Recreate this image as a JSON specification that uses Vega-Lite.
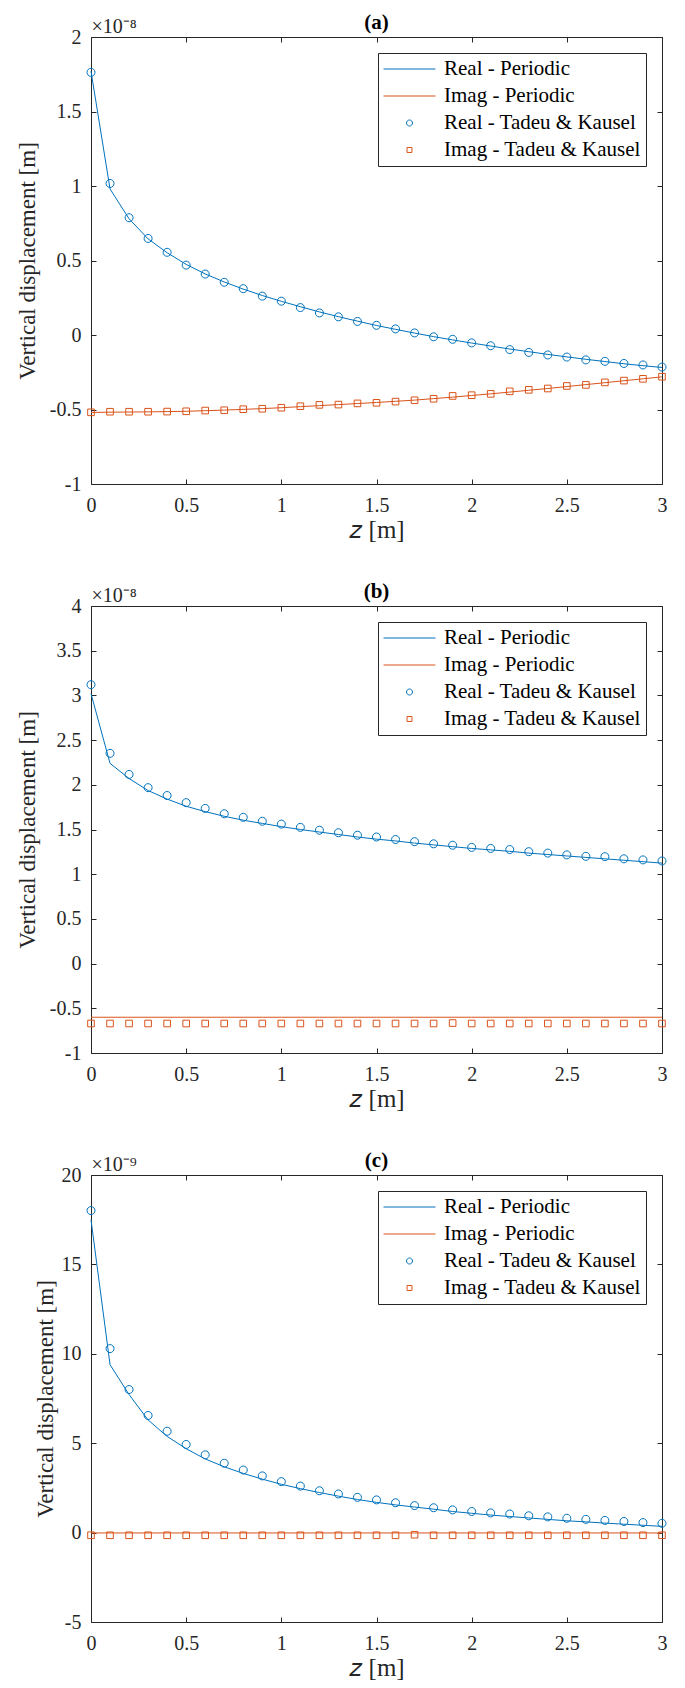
{
  "$schema": "https://vega.github.io/schema/vega-lite/v6.json",
  "background": "white",
  "padding": {"left": 16, "top": 11, "right": 5, "bottom": 5},
  "config": {
    "view": {"stroke": null},
    "font": "Liberation Serif",
    "style": {"guide-label": {"font": "Liberation Serif"}, "guide-title": {"font": "Liberation Serif"}, "group-title": {"font": "Liberation Serif"}},
    "title": {"font": "Liberation Serif", "fontSize": 21, "fontWeight": "bold", "color": "#000000", "frame": "group", "anchor": "middle", "offset": -16},
    "axis": {"grid": false, "domainColor": "#262626", "domainWidth": 1, "tickColor": "#262626", "tickWidth": 1, "tickSize": -5, "labelFont": "Liberation Serif", "labelFontSize": 20, "labelColor": "#262626", "labelFlush": false, "labelOverlap": false, "titleFont": "Liberation Serif", "titleFontSize": 25, "titleFontWeight": "normal", "titleColor": "#262626"},
    "axisX": {"labelPadding": 16, "titlePadding": 2},
    "axisY": {"labelPadding": 15, "titlePadding": 10, "titleFontSize": 23},
    "legend": {"orient": "top-right", "offset": 16, "padding": 5, "rowPadding": 5, "clipHeight": 22, "labelFont": "Liberation Serif", "labelFontSize": 21, "labelColor": "#000000", "labelOffset": 8, "labelLimit": 0, "symbolSize": 2700, "symbolStrokeWidth": 1, "strokeColor": "#262626", "fillColor": "#ffffff"}
  },
  "datasets": {
    "aP": [
      {"z":0,"v":1.77e-8,"s":"Real - Periodic"},{"z":0.1,"v":0.98e-8,"s":"Real - Periodic"},{"z":0.2,"v":0.78e-8,"s":"Real - Periodic"},{"z":0.3,"v":0.645e-8,"s":"Real - Periodic"},{"z":0.4,"v":0.552e-8,"s":"Real - Periodic"},{"z":0.5,"v":0.474e-8,"s":"Real - Periodic"},{"z":0.6,"v":0.41e-8,"s":"Real - Periodic"},{"z":0.7,"v":0.356e-8,"s":"Real - Periodic"},{"z":0.8,"v":0.308e-8,"s":"Real - Periodic"},{"z":0.9,"v":0.265e-8,"s":"Real - Periodic"},{"z":1.0,"v":0.226e-8,"s":"Real - Periodic"},{"z":1.1,"v":0.19e-8,"s":"Real - Periodic"},{"z":1.2,"v":0.155e-8,"s":"Real - Periodic"},{"z":1.3,"v":0.123e-8,"s":"Real - Periodic"},{"z":1.4,"v":0.093e-8,"s":"Real - Periodic"},{"z":1.5,"v":0.064e-8,"s":"Real - Periodic"},{"z":1.6,"v":0.038e-8,"s":"Real - Periodic"},{"z":1.7,"v":0.013e-8,"s":"Real - Periodic"},{"z":1.8,"v":-0.011e-8,"s":"Real - Periodic"},{"z":1.9,"v":-0.033e-8,"s":"Real - Periodic"},{"z":2.0,"v":-0.054e-8,"s":"Real - Periodic"},{"z":2.1,"v":-0.074e-8,"s":"Real - Periodic"},{"z":2.2,"v":-0.094e-8,"s":"Real - Periodic"},{"z":2.3,"v":-0.112e-8,"s":"Real - Periodic"},{"z":2.4,"v":-0.13e-8,"s":"Real - Periodic"},{"z":2.5,"v":-0.147e-8,"s":"Real - Periodic"},{"z":2.6,"v":-0.163e-8,"s":"Real - Periodic"},{"z":2.7,"v":-0.178e-8,"s":"Real - Periodic"},{"z":2.8,"v":-0.193e-8,"s":"Real - Periodic"},{"z":2.9,"v":-0.206e-8,"s":"Real - Periodic"},{"z":3.0,"v":-0.218e-8,"s":"Real - Periodic"},
      {"z":0,"v":-0.52e-8,"s":"Imag - Periodic"},{"z":0.1,"v":-0.518e-8,"s":"Imag - Periodic"},{"z":0.2,"v":-0.517e-8,"s":"Imag - Periodic"},{"z":0.3,"v":-0.516e-8,"s":"Imag - Periodic"},{"z":0.4,"v":-0.514e-8,"s":"Imag - Periodic"},{"z":0.5,"v":-0.512e-8,"s":"Imag - Periodic"},{"z":0.6,"v":-0.508e-8,"s":"Imag - Periodic"},{"z":0.7,"v":-0.504e-8,"s":"Imag - Periodic"},{"z":0.8,"v":-0.499e-8,"s":"Imag - Periodic"},{"z":0.9,"v":-0.494e-8,"s":"Imag - Periodic"},{"z":1.0,"v":-0.488e-8,"s":"Imag - Periodic"},{"z":1.1,"v":-0.481e-8,"s":"Imag - Periodic"},{"z":1.2,"v":-0.474e-8,"s":"Imag - Periodic"},{"z":1.3,"v":-0.467e-8,"s":"Imag - Periodic"},{"z":1.4,"v":-0.46e-8,"s":"Imag - Periodic"},{"z":1.5,"v":-0.453e-8,"s":"Imag - Periodic"},{"z":1.6,"v":-0.445e-8,"s":"Imag - Periodic"},{"z":1.7,"v":-0.437e-8,"s":"Imag - Periodic"},{"z":1.8,"v":-0.427e-8,"s":"Imag - Periodic"},{"z":1.9,"v":-0.417e-8,"s":"Imag - Periodic"},{"z":2.0,"v":-0.406e-8,"s":"Imag - Periodic"},{"z":2.1,"v":-0.395e-8,"s":"Imag - Periodic"},{"z":2.2,"v":-0.383e-8,"s":"Imag - Periodic"},{"z":2.3,"v":-0.371e-8,"s":"Imag - Periodic"},{"z":2.4,"v":-0.359e-8,"s":"Imag - Periodic"},{"z":2.5,"v":-0.346e-8,"s":"Imag - Periodic"},{"z":2.6,"v":-0.333e-8,"s":"Imag - Periodic"},{"z":2.7,"v":-0.32e-8,"s":"Imag - Periodic"},{"z":2.8,"v":-0.307e-8,"s":"Imag - Periodic"},{"z":2.9,"v":-0.294e-8,"s":"Imag - Periodic"},{"z":3.0,"v":-0.281e-8,"s":"Imag - Periodic"}
    ],
    "aT": [
      {"z":0,"v":1.763e-8,"s":"Real - Tadeu & Kausel"},{"z":0.1,"v":1.017e-8,"s":"Real - Tadeu & Kausel"},{"z":0.2,"v":0.787e-8,"s":"Real - Tadeu & Kausel"},{"z":0.3,"v":0.648e-8,"s":"Real - Tadeu & Kausel"},{"z":0.4,"v":0.555e-8,"s":"Real - Tadeu & Kausel"},{"z":0.5,"v":0.469e-8,"s":"Real - Tadeu & Kausel"},{"z":0.6,"v":0.409e-8,"s":"Real - Tadeu & Kausel"},{"z":0.7,"v":0.354e-8,"s":"Real - Tadeu & Kausel"},{"z":0.8,"v":0.311e-8,"s":"Real - Tadeu & Kausel"},{"z":0.9,"v":0.261e-8,"s":"Real - Tadeu & Kausel"},{"z":1.0,"v":0.227e-8,"s":"Real - Tadeu & Kausel"},{"z":1.1,"v":0.184e-8,"s":"Real - Tadeu & Kausel"},{"z":1.2,"v":0.148e-8,"s":"Real - Tadeu & Kausel"},{"z":1.3,"v":0.122e-8,"s":"Real - Tadeu & Kausel"},{"z":1.4,"v":0.091e-8,"s":"Real - Tadeu & Kausel"},{"z":1.5,"v":0.065e-8,"s":"Real - Tadeu & Kausel"},{"z":1.6,"v":0.041e-8,"s":"Real - Tadeu & Kausel"},{"z":1.7,"v":0.014e-8,"s":"Real - Tadeu & Kausel"},{"z":1.8,"v":-0.012e-8,"s":"Real - Tadeu & Kausel"},{"z":1.9,"v":-0.029e-8,"s":"Real - Tadeu & Kausel"},{"z":2.0,"v":-0.053e-8,"s":"Real - Tadeu & Kausel"},{"z":2.1,"v":-0.072e-8,"s":"Real - Tadeu & Kausel"},{"z":2.2,"v":-0.098e-8,"s":"Real - Tadeu & Kausel"},{"z":2.3,"v":-0.117e-8,"s":"Real - Tadeu & Kausel"},{"z":2.4,"v":-0.134e-8,"s":"Real - Tadeu & Kausel"},{"z":2.5,"v":-0.148e-8,"s":"Real - Tadeu & Kausel"},{"z":2.6,"v":-0.167e-8,"s":"Real - Tadeu & Kausel"},{"z":2.7,"v":-0.177e-8,"s":"Real - Tadeu & Kausel"},{"z":2.8,"v":-0.191e-8,"s":"Real - Tadeu & Kausel"},{"z":2.9,"v":-0.201e-8,"s":"Real - Tadeu & Kausel"},{"z":3.0,"v":-0.215e-8,"s":"Real - Tadeu & Kausel"},
      {"z":0,"v":-0.519e-8,"s":"Imag - Tadeu & Kausel"},{"z":0.1,"v":-0.515e-8,"s":"Imag - Tadeu & Kausel"},{"z":0.2,"v":-0.515e-8,"s":"Imag - Tadeu & Kausel"},{"z":0.3,"v":-0.515e-8,"s":"Imag - Tadeu & Kausel"},{"z":0.4,"v":-0.514e-8,"s":"Imag - Tadeu & Kausel"},{"z":0.5,"v":-0.512e-8,"s":"Imag - Tadeu & Kausel"},{"z":0.6,"v":-0.507e-8,"s":"Imag - Tadeu & Kausel"},{"z":0.7,"v":-0.505e-8,"s":"Imag - Tadeu & Kausel"},{"z":0.8,"v":-0.498e-8,"s":"Imag - Tadeu & Kausel"},{"z":0.9,"v":-0.495e-8,"s":"Imag - Tadeu & Kausel"},{"z":1.0,"v":-0.488e-8,"s":"Imag - Tadeu & Kausel"},{"z":1.1,"v":-0.478e-8,"s":"Imag - Tadeu & Kausel"},{"z":1.2,"v":-0.469e-8,"s":"Imag - Tadeu & Kausel"},{"z":1.3,"v":-0.467e-8,"s":"Imag - Tadeu & Kausel"},{"z":1.4,"v":-0.459e-8,"s":"Imag - Tadeu & Kausel"},{"z":1.5,"v":-0.455e-8,"s":"Imag - Tadeu & Kausel"},{"z":1.6,"v":-0.447e-8,"s":"Imag - Tadeu & Kausel"},{"z":1.7,"v":-0.438e-8,"s":"Imag - Tadeu & Kausel"},{"z":1.8,"v":-0.428e-8,"s":"Imag - Tadeu & Kausel"},{"z":1.9,"v":-0.409e-8,"s":"Imag - Tadeu & Kausel"},{"z":2.0,"v":-0.404e-8,"s":"Imag - Tadeu & Kausel"},{"z":2.1,"v":-0.395e-8,"s":"Imag - Tadeu & Kausel"},{"z":2.2,"v":-0.378e-8,"s":"Imag - Tadeu & Kausel"},{"z":2.3,"v":-0.368e-8,"s":"Imag - Tadeu & Kausel"},{"z":2.4,"v":-0.359e-8,"s":"Imag - Tadeu & Kausel"},{"z":2.5,"v":-0.342e-8,"s":"Imag - Tadeu & Kausel"},{"z":2.6,"v":-0.335e-8,"s":"Imag - Tadeu & Kausel"},{"z":2.7,"v":-0.318e-8,"s":"Imag - Tadeu & Kausel"},{"z":2.8,"v":-0.306e-8,"s":"Imag - Tadeu & Kausel"},{"z":2.9,"v":-0.294e-8,"s":"Imag - Tadeu & Kausel"},{"z":3.0,"v":-0.28e-8,"s":"Imag - Tadeu & Kausel"}
    ],
    "bP": [
      {"z":0,"v":3.02e-8,"s":"Real - Periodic"},{"z":0.1,"v":2.24e-8,"s":"Real - Periodic"},{"z":0.2,"v":2.07e-8,"s":"Real - Periodic"},{"z":0.3,"v":1.936e-8,"s":"Real - Periodic"},{"z":0.4,"v":1.84e-8,"s":"Real - Periodic"},{"z":0.5,"v":1.76e-8,"s":"Real - Periodic"},{"z":0.6,"v":1.70e-8,"s":"Real - Periodic"},{"z":0.7,"v":1.648e-8,"s":"Real - Periodic"},{"z":0.8,"v":1.604e-8,"s":"Real - Periodic"},{"z":0.9,"v":1.568e-8,"s":"Real - Periodic"},{"z":1.0,"v":1.532e-8,"s":"Real - Periodic"},{"z":1.1,"v":1.50e-8,"s":"Real - Periodic"},{"z":1.2,"v":1.472e-8,"s":"Real - Periodic"},{"z":1.3,"v":1.444e-8,"s":"Real - Periodic"},{"z":1.4,"v":1.416e-8,"s":"Real - Periodic"},{"z":1.5,"v":1.392e-8,"s":"Real - Periodic"},{"z":1.6,"v":1.372e-8,"s":"Real - Periodic"},{"z":1.7,"v":1.348e-8,"s":"Real - Periodic"},{"z":1.8,"v":1.328e-8,"s":"Real - Periodic"},{"z":1.9,"v":1.308e-8,"s":"Real - Periodic"},{"z":2.0,"v":1.288e-8,"s":"Real - Periodic"},{"z":2.1,"v":1.272e-8,"s":"Real - Periodic"},{"z":2.2,"v":1.256e-8,"s":"Real - Periodic"},{"z":2.3,"v":1.236e-8,"s":"Real - Periodic"},{"z":2.4,"v":1.22e-8,"s":"Real - Periodic"},{"z":2.5,"v":1.204e-8,"s":"Real - Periodic"},{"z":2.6,"v":1.188e-8,"s":"Real - Periodic"},{"z":2.7,"v":1.172e-8,"s":"Real - Periodic"},{"z":2.8,"v":1.156e-8,"s":"Real - Periodic"},{"z":2.9,"v":1.14e-8,"s":"Real - Periodic"},{"z":3.0,"v":1.124e-8,"s":"Real - Periodic"},
      {"z":0,"v":-0.6e-8,"s":"Imag - Periodic"},{"z":0.1,"v":-0.6e-8,"s":"Imag - Periodic"},{"z":0.2,"v":-0.6e-8,"s":"Imag - Periodic"},{"z":0.3,"v":-0.6e-8,"s":"Imag - Periodic"},{"z":0.4,"v":-0.6e-8,"s":"Imag - Periodic"},{"z":0.5,"v":-0.6e-8,"s":"Imag - Periodic"},{"z":0.6,"v":-0.6e-8,"s":"Imag - Periodic"},{"z":0.7,"v":-0.6e-8,"s":"Imag - Periodic"},{"z":0.8,"v":-0.6e-8,"s":"Imag - Periodic"},{"z":0.9,"v":-0.6e-8,"s":"Imag - Periodic"},{"z":1.0,"v":-0.6e-8,"s":"Imag - Periodic"},{"z":1.1,"v":-0.6e-8,"s":"Imag - Periodic"},{"z":1.2,"v":-0.6e-8,"s":"Imag - Periodic"},{"z":1.3,"v":-0.6e-8,"s":"Imag - Periodic"},{"z":1.4,"v":-0.6e-8,"s":"Imag - Periodic"},{"z":1.5,"v":-0.6e-8,"s":"Imag - Periodic"},{"z":1.6,"v":-0.6e-8,"s":"Imag - Periodic"},{"z":1.7,"v":-0.6e-8,"s":"Imag - Periodic"},{"z":1.8,"v":-0.6e-8,"s":"Imag - Periodic"},{"z":1.9,"v":-0.6e-8,"s":"Imag - Periodic"},{"z":2.0,"v":-0.6e-8,"s":"Imag - Periodic"},{"z":2.1,"v":-0.6e-8,"s":"Imag - Periodic"},{"z":2.2,"v":-0.6e-8,"s":"Imag - Periodic"},{"z":2.3,"v":-0.6e-8,"s":"Imag - Periodic"},{"z":2.4,"v":-0.6e-8,"s":"Imag - Periodic"},{"z":2.5,"v":-0.6e-8,"s":"Imag - Periodic"},{"z":2.6,"v":-0.6e-8,"s":"Imag - Periodic"},{"z":2.7,"v":-0.6e-8,"s":"Imag - Periodic"},{"z":2.8,"v":-0.6e-8,"s":"Imag - Periodic"},{"z":2.9,"v":-0.6e-8,"s":"Imag - Periodic"},{"z":3.0,"v":-0.6e-8,"s":"Imag - Periodic"}
    ],
    "bT": [
      {"z":0,"v":3.12e-8,"s":"Real - Tadeu & Kausel"},{"z":0.1,"v":2.352e-8,"s":"Real - Tadeu & Kausel"},{"z":0.2,"v":2.116e-8,"s":"Real - Tadeu & Kausel"},{"z":0.3,"v":1.968e-8,"s":"Real - Tadeu & Kausel"},{"z":0.4,"v":1.88e-8,"s":"Real - Tadeu & Kausel"},{"z":0.5,"v":1.80e-8,"s":"Real - Tadeu & Kausel"},{"z":0.6,"v":1.736e-8,"s":"Real - Tadeu & Kausel"},{"z":0.7,"v":1.676e-8,"s":"Real - Tadeu & Kausel"},{"z":0.8,"v":1.636e-8,"s":"Real - Tadeu & Kausel"},{"z":0.9,"v":1.592e-8,"s":"Real - Tadeu & Kausel"},{"z":1.0,"v":1.56e-8,"s":"Real - Tadeu & Kausel"},{"z":1.1,"v":1.524e-8,"s":"Real - Tadeu & Kausel"},{"z":1.2,"v":1.492e-8,"s":"Real - Tadeu & Kausel"},{"z":1.3,"v":1.464e-8,"s":"Real - Tadeu & Kausel"},{"z":1.4,"v":1.436e-8,"s":"Real - Tadeu & Kausel"},{"z":1.5,"v":1.416e-8,"s":"Real - Tadeu & Kausel"},{"z":1.6,"v":1.388e-8,"s":"Real - Tadeu & Kausel"},{"z":1.7,"v":1.364e-8,"s":"Real - Tadeu & Kausel"},{"z":1.8,"v":1.34e-8,"s":"Real - Tadeu & Kausel"},{"z":1.9,"v":1.324e-8,"s":"Real - Tadeu & Kausel"},{"z":2.0,"v":1.30e-8,"s":"Real - Tadeu & Kausel"},{"z":2.1,"v":1.288e-8,"s":"Real - Tadeu & Kausel"},{"z":2.2,"v":1.276e-8,"s":"Real - Tadeu & Kausel"},{"z":2.3,"v":1.252e-8,"s":"Real - Tadeu & Kausel"},{"z":2.4,"v":1.236e-8,"s":"Real - Tadeu & Kausel"},{"z":2.5,"v":1.216e-8,"s":"Real - Tadeu & Kausel"},{"z":2.6,"v":1.20e-8,"s":"Real - Tadeu & Kausel"},{"z":2.7,"v":1.196e-8,"s":"Real - Tadeu & Kausel"},{"z":2.8,"v":1.172e-8,"s":"Real - Tadeu & Kausel"},{"z":2.9,"v":1.16e-8,"s":"Real - Tadeu & Kausel"},{"z":3.0,"v":1.148e-8,"s":"Real - Tadeu & Kausel"},
      {"z":0,"v":-0.67e-8,"s":"Imag - Tadeu & Kausel"},{"z":0.1,"v":-0.67e-8,"s":"Imag - Tadeu & Kausel"},{"z":0.2,"v":-0.67e-8,"s":"Imag - Tadeu & Kausel"},{"z":0.3,"v":-0.67e-8,"s":"Imag - Tadeu & Kausel"},{"z":0.4,"v":-0.67e-8,"s":"Imag - Tadeu & Kausel"},{"z":0.5,"v":-0.67e-8,"s":"Imag - Tadeu & Kausel"},{"z":0.6,"v":-0.67e-8,"s":"Imag - Tadeu & Kausel"},{"z":0.7,"v":-0.67e-8,"s":"Imag - Tadeu & Kausel"},{"z":0.8,"v":-0.67e-8,"s":"Imag - Tadeu & Kausel"},{"z":0.9,"v":-0.67e-8,"s":"Imag - Tadeu & Kausel"},{"z":1.0,"v":-0.67e-8,"s":"Imag - Tadeu & Kausel"},{"z":1.1,"v":-0.67e-8,"s":"Imag - Tadeu & Kausel"},{"z":1.2,"v":-0.67e-8,"s":"Imag - Tadeu & Kausel"},{"z":1.3,"v":-0.67e-8,"s":"Imag - Tadeu & Kausel"},{"z":1.4,"v":-0.67e-8,"s":"Imag - Tadeu & Kausel"},{"z":1.5,"v":-0.67e-8,"s":"Imag - Tadeu & Kausel"},{"z":1.6,"v":-0.67e-8,"s":"Imag - Tadeu & Kausel"},{"z":1.7,"v":-0.67e-8,"s":"Imag - Tadeu & Kausel"},{"z":1.8,"v":-0.67e-8,"s":"Imag - Tadeu & Kausel"},{"z":1.9,"v":-0.665e-8,"s":"Imag - Tadeu & Kausel"},{"z":2.0,"v":-0.67e-8,"s":"Imag - Tadeu & Kausel"},{"z":2.1,"v":-0.67e-8,"s":"Imag - Tadeu & Kausel"},{"z":2.2,"v":-0.67e-8,"s":"Imag - Tadeu & Kausel"},{"z":2.3,"v":-0.67e-8,"s":"Imag - Tadeu & Kausel"},{"z":2.4,"v":-0.67e-8,"s":"Imag - Tadeu & Kausel"},{"z":2.5,"v":-0.67e-8,"s":"Imag - Tadeu & Kausel"},{"z":2.6,"v":-0.67e-8,"s":"Imag - Tadeu & Kausel"},{"z":2.7,"v":-0.67e-8,"s":"Imag - Tadeu & Kausel"},{"z":2.8,"v":-0.67e-8,"s":"Imag - Tadeu & Kausel"},{"z":2.9,"v":-0.67e-8,"s":"Imag - Tadeu & Kausel"},{"z":3.0,"v":-0.67e-8,"s":"Imag - Tadeu & Kausel"}
    ],
    "cP": [
      {"z":0,"v":17.5e-9,"s":"Real - Periodic"},{"z":0.1,"v":9.39e-9,"s":"Real - Periodic"},{"z":0.2,"v":7.72e-9,"s":"Real - Periodic"},{"z":0.3,"v":6.3e-9,"s":"Real - Periodic"},{"z":0.4,"v":5.38e-9,"s":"Real - Periodic"},{"z":0.5,"v":4.69e-9,"s":"Real - Periodic"},{"z":0.6,"v":4.12e-9,"s":"Real - Periodic"},{"z":0.7,"v":3.68e-9,"s":"Real - Periodic"},{"z":0.8,"v":3.31e-9,"s":"Real - Periodic"},{"z":0.9,"v":2.99e-9,"s":"Real - Periodic"},{"z":1.0,"v":2.70e-9,"s":"Real - Periodic"},{"z":1.1,"v":2.46e-9,"s":"Real - Periodic"},{"z":1.2,"v":2.24e-9,"s":"Real - Periodic"},{"z":1.3,"v":2.04e-9,"s":"Real - Periodic"},{"z":1.4,"v":1.85e-9,"s":"Real - Periodic"},{"z":1.5,"v":1.69e-9,"s":"Real - Periodic"},{"z":1.6,"v":1.55e-9,"s":"Real - Periodic"},{"z":1.7,"v":1.43e-9,"s":"Real - Periodic"},{"z":1.8,"v":1.31e-9,"s":"Real - Periodic"},{"z":1.9,"v":1.18e-9,"s":"Real - Periodic"},{"z":2.0,"v":1.08e-9,"s":"Real - Periodic"},{"z":2.1,"v":0.98e-9,"s":"Real - Periodic"},{"z":2.2,"v":0.90e-9,"s":"Real - Periodic"},{"z":2.3,"v":0.82e-9,"s":"Real - Periodic"},{"z":2.4,"v":0.74e-9,"s":"Real - Periodic"},{"z":2.5,"v":0.66e-9,"s":"Real - Periodic"},{"z":2.6,"v":0.60e-9,"s":"Real - Periodic"},{"z":2.7,"v":0.53e-9,"s":"Real - Periodic"},{"z":2.8,"v":0.47e-9,"s":"Real - Periodic"},{"z":2.9,"v":0.41e-9,"s":"Real - Periodic"},{"z":3.0,"v":0.35e-9,"s":"Real - Periodic"},
      {"z":0,"v":-0.02e-9,"s":"Imag - Periodic"},{"z":0.1,"v":-0.02e-9,"s":"Imag - Periodic"},{"z":0.2,"v":-0.02e-9,"s":"Imag - Periodic"},{"z":0.3,"v":-0.02e-9,"s":"Imag - Periodic"},{"z":0.4,"v":-0.02e-9,"s":"Imag - Periodic"},{"z":0.5,"v":-0.02e-9,"s":"Imag - Periodic"},{"z":0.6,"v":-0.02e-9,"s":"Imag - Periodic"},{"z":0.7,"v":-0.02e-9,"s":"Imag - Periodic"},{"z":0.8,"v":-0.02e-9,"s":"Imag - Periodic"},{"z":0.9,"v":-0.02e-9,"s":"Imag - Periodic"},{"z":1.0,"v":-0.02e-9,"s":"Imag - Periodic"},{"z":1.1,"v":-0.02e-9,"s":"Imag - Periodic"},{"z":1.2,"v":-0.02e-9,"s":"Imag - Periodic"},{"z":1.3,"v":-0.02e-9,"s":"Imag - Periodic"},{"z":1.4,"v":-0.02e-9,"s":"Imag - Periodic"},{"z":1.5,"v":-0.02e-9,"s":"Imag - Periodic"},{"z":1.6,"v":-0.02e-9,"s":"Imag - Periodic"},{"z":1.7,"v":-0.02e-9,"s":"Imag - Periodic"},{"z":1.8,"v":-0.02e-9,"s":"Imag - Periodic"},{"z":1.9,"v":-0.02e-9,"s":"Imag - Periodic"},{"z":2.0,"v":-0.02e-9,"s":"Imag - Periodic"},{"z":2.1,"v":-0.02e-9,"s":"Imag - Periodic"},{"z":2.2,"v":-0.02e-9,"s":"Imag - Periodic"},{"z":2.3,"v":-0.02e-9,"s":"Imag - Periodic"},{"z":2.4,"v":-0.02e-9,"s":"Imag - Periodic"},{"z":2.5,"v":-0.02e-9,"s":"Imag - Periodic"},{"z":2.6,"v":-0.02e-9,"s":"Imag - Periodic"},{"z":2.7,"v":-0.02e-9,"s":"Imag - Periodic"},{"z":2.8,"v":-0.02e-9,"s":"Imag - Periodic"},{"z":2.9,"v":-0.02e-9,"s":"Imag - Periodic"},{"z":3.0,"v":-0.02e-9,"s":"Imag - Periodic"}
    ],
    "cT": [
      {"z":0,"v":18.01e-9,"s":"Real - Tadeu & Kausel"},{"z":0.1,"v":10.29e-9,"s":"Real - Tadeu & Kausel"},{"z":0.2,"v":8.0e-9,"s":"Real - Tadeu & Kausel"},{"z":0.3,"v":6.55e-9,"s":"Real - Tadeu & Kausel"},{"z":0.4,"v":5.67e-9,"s":"Real - Tadeu & Kausel"},{"z":0.5,"v":4.93e-9,"s":"Real - Tadeu & Kausel"},{"z":0.6,"v":4.35e-9,"s":"Real - Tadeu & Kausel"},{"z":0.7,"v":3.88e-9,"s":"Real - Tadeu & Kausel"},{"z":0.8,"v":3.50e-9,"s":"Real - Tadeu & Kausel"},{"z":0.9,"v":3.17e-9,"s":"Real - Tadeu & Kausel"},{"z":1.0,"v":2.85e-9,"s":"Real - Tadeu & Kausel"},{"z":1.1,"v":2.60e-9,"s":"Real - Tadeu & Kausel"},{"z":1.2,"v":2.34e-9,"s":"Real - Tadeu & Kausel"},{"z":1.3,"v":2.16e-9,"s":"Real - Tadeu & Kausel"},{"z":1.4,"v":1.97e-9,"s":"Real - Tadeu & Kausel"},{"z":1.5,"v":1.83e-9,"s":"Real - Tadeu & Kausel"},{"z":1.6,"v":1.67e-9,"s":"Real - Tadeu & Kausel"},{"z":1.7,"v":1.51e-9,"s":"Real - Tadeu & Kausel"},{"z":1.8,"v":1.39e-9,"s":"Real - Tadeu & Kausel"},{"z":1.9,"v":1.27e-9,"s":"Real - Tadeu & Kausel"},{"z":2.0,"v":1.18e-9,"s":"Real - Tadeu & Kausel"},{"z":2.1,"v":1.10e-9,"s":"Real - Tadeu & Kausel"},{"z":2.2,"v":1.04e-9,"s":"Real - Tadeu & Kausel"},{"z":2.3,"v":0.94e-9,"s":"Real - Tadeu & Kausel"},{"z":2.4,"v":0.88e-9,"s":"Real - Tadeu & Kausel"},{"z":2.5,"v":0.80e-9,"s":"Real - Tadeu & Kausel"},{"z":2.6,"v":0.74e-9,"s":"Real - Tadeu & Kausel"},{"z":2.7,"v":0.68e-9,"s":"Real - Tadeu & Kausel"},{"z":2.8,"v":0.62e-9,"s":"Real - Tadeu & Kausel"},{"z":2.9,"v":0.56e-9,"s":"Real - Tadeu & Kausel"},{"z":3.0,"v":0.52e-9,"s":"Real - Tadeu & Kausel"},
      {"z":0,"v":-0.15e-9,"s":"Imag - Tadeu & Kausel"},{"z":0.1,"v":-0.15e-9,"s":"Imag - Tadeu & Kausel"},{"z":0.2,"v":-0.15e-9,"s":"Imag - Tadeu & Kausel"},{"z":0.3,"v":-0.15e-9,"s":"Imag - Tadeu & Kausel"},{"z":0.4,"v":-0.15e-9,"s":"Imag - Tadeu & Kausel"},{"z":0.5,"v":-0.15e-9,"s":"Imag - Tadeu & Kausel"},{"z":0.6,"v":-0.15e-9,"s":"Imag - Tadeu & Kausel"},{"z":0.7,"v":-0.15e-9,"s":"Imag - Tadeu & Kausel"},{"z":0.8,"v":-0.15e-9,"s":"Imag - Tadeu & Kausel"},{"z":0.9,"v":-0.15e-9,"s":"Imag - Tadeu & Kausel"},{"z":1.0,"v":-0.15e-9,"s":"Imag - Tadeu & Kausel"},{"z":1.1,"v":-0.15e-9,"s":"Imag - Tadeu & Kausel"},{"z":1.2,"v":-0.15e-9,"s":"Imag - Tadeu & Kausel"},{"z":1.3,"v":-0.15e-9,"s":"Imag - Tadeu & Kausel"},{"z":1.4,"v":-0.15e-9,"s":"Imag - Tadeu & Kausel"},{"z":1.5,"v":-0.15e-9,"s":"Imag - Tadeu & Kausel"},{"z":1.6,"v":-0.15e-9,"s":"Imag - Tadeu & Kausel"},{"z":1.7,"v":-0.12e-9,"s":"Imag - Tadeu & Kausel"},{"z":1.8,"v":-0.15e-9,"s":"Imag - Tadeu & Kausel"},{"z":1.9,"v":-0.15e-9,"s":"Imag - Tadeu & Kausel"},{"z":2.0,"v":-0.15e-9,"s":"Imag - Tadeu & Kausel"},{"z":2.1,"v":-0.15e-9,"s":"Imag - Tadeu & Kausel"},{"z":2.2,"v":-0.15e-9,"s":"Imag - Tadeu & Kausel"},{"z":2.3,"v":-0.15e-9,"s":"Imag - Tadeu & Kausel"},{"z":2.4,"v":-0.15e-9,"s":"Imag - Tadeu & Kausel"},{"z":2.5,"v":-0.15e-9,"s":"Imag - Tadeu & Kausel"},{"z":2.6,"v":-0.15e-9,"s":"Imag - Tadeu & Kausel"},{"z":2.7,"v":-0.15e-9,"s":"Imag - Tadeu & Kausel"},{"z":2.8,"v":-0.15e-9,"s":"Imag - Tadeu & Kausel"},{"z":2.9,"v":-0.15e-9,"s":"Imag - Tadeu & Kausel"},{"z":3.0,"v":-0.15e-9,"s":"Imag - Tadeu & Kausel"}
    ]
  },
  "vconcat": [
    {
      "width": 571, "height": 447,
      "title": {"text": "(a)"},
      "resolve": {"scale": {"x": "independent", "y": "independent"}},
      "layer": [
        {
          "data": {"name": "aP"},
          "mark": {"type": "line", "strokeWidth": 1},
          "encoding": {
            "x": {"field": "z", "type": "quantitative", "scale": {"domain": [0, 3], "nice": false, "zero": false}, "axis": {"values": [0,0.5,1,1.5,2,2.5,3], "format": "~g", "title": "𝑧 [m]"}},
            "y": {"field": "v", "type": "quantitative", "scale": {"domain": [-1e-8, 2e-8], "nice": false, "zero": false}, "axis": {"values": [-1e-8,-0.5e-8,0,0.5e-8,1e-8,1.5e-8,2e-8], "labelExpr": "replace(format(datum.value*1e8,'~g'),'−','-')", "title": "Vertical displacement [m]"}},
            "color": {"field": "s", "type": "nominal", "scale": {"domain": ["Real - Periodic","Imag - Periodic","Real - Tadeu & Kausel","Imag - Tadeu & Kausel"], "range": ["#0072BD","#D95319","#0072BD","#D95319"]}, "legend": {"title": null}}
          }
        },
        {
          "data": {"name": "aT"},
          "mark": {"type": "point", "filled": false, "size": 4844, "strokeWidth": 1, "opacity": 1},
          "encoding": {
            "x": {"field": "z", "type": "quantitative", "scale": {"domain": [0, 3], "nice": false, "zero": false}, "axis": {"orient": "top", "values": [0,0.5,1,1.5,2,2.5,3], "labels": false, "title": "×10⁻⁸", "titleAnchor": "start", "titleAlign": "left", "titleFontSize": 20, "titleBaseline": "alphabetic", "titlePadding": 4}},
            "y": {"field": "v", "type": "quantitative", "scale": {"domain": [-1e-8, 2e-8], "nice": false, "zero": false}, "axis": {"orient": "right", "values": [-1e-8,-0.5e-8,0,0.5e-8,1e-8,1.5e-8,2e-8], "labels": false, "title": null}},
            "color": {"field": "s", "type": "nominal", "scale": {"domain": ["Real - Periodic","Imag - Periodic","Real - Tadeu & Kausel","Imag - Tadeu & Kausel"], "range": ["#0072BD","#D95319","#0072BD","#D95319"]}, "legend": {"title": null}},
            "shape": {"field": "s", "type": "nominal", "scale": {"domain": ["Real - Periodic","Imag - Periodic","Real - Tadeu & Kausel","Imag - Tadeu & Kausel"], "range": ["stroke","stroke","M0.115,0A0.115,0.115,0,1,1,-0.115,0A0.115,0.115,0,1,1,0.115,0Z","M-0.095,-0.095H0.095V0.095H-0.095Z"]}, "legend": {"title": null}}
          }
        }
      ]
    },
    {
      "width": 571, "height": 447,
      "title": {"text": "(b)"},
      "resolve": {"scale": {"x": "independent", "y": "independent"}},
      "layer": [
        {
          "data": {"name": "bP"},
          "mark": {"type": "line", "strokeWidth": 1},
          "encoding": {
            "x": {"field": "z", "type": "quantitative", "scale": {"domain": [0, 3], "nice": false, "zero": false}, "axis": {"values": [0,0.5,1,1.5,2,2.5,3], "format": "~g", "title": "𝑧 [m]"}},
            "y": {"field": "v", "type": "quantitative", "scale": {"domain": [-1e-8, 4e-8], "nice": false, "zero": false}, "axis": {"values": [-1e-8,-0.5e-8,0,0.5e-8,1e-8,1.5e-8,2e-8,2.5e-8,3e-8,3.5e-8,4e-8], "labelExpr": "replace(format(datum.value*1e8,'~g'),'−','-')", "title": "Vertical displacement [m]"}},
            "color": {"field": "s", "type": "nominal", "scale": {"domain": ["Real - Periodic","Imag - Periodic","Real - Tadeu & Kausel","Imag - Tadeu & Kausel"], "range": ["#0072BD","#D95319","#0072BD","#D95319"]}, "legend": {"title": null}}
          }
        },
        {
          "data": {"name": "bT"},
          "mark": {"type": "point", "filled": false, "size": 4844, "strokeWidth": 1, "opacity": 1},
          "encoding": {
            "x": {"field": "z", "type": "quantitative", "scale": {"domain": [0, 3], "nice": false, "zero": false}, "axis": {"orient": "top", "values": [0,0.5,1,1.5,2,2.5,3], "labels": false, "title": "×10⁻⁸", "titleAnchor": "start", "titleAlign": "left", "titleFontSize": 20, "titleBaseline": "alphabetic", "titlePadding": 4}},
            "y": {"field": "v", "type": "quantitative", "scale": {"domain": [-1e-8, 4e-8], "nice": false, "zero": false}, "axis": {"orient": "right", "values": [-1e-8,-0.5e-8,0,0.5e-8,1e-8,1.5e-8,2e-8,2.5e-8,3e-8,3.5e-8,4e-8], "labels": false, "title": null}},
            "color": {"field": "s", "type": "nominal", "scale": {"domain": ["Real - Periodic","Imag - Periodic","Real - Tadeu & Kausel","Imag - Tadeu & Kausel"], "range": ["#0072BD","#D95319","#0072BD","#D95319"]}, "legend": {"title": null}},
            "shape": {"field": "s", "type": "nominal", "scale": {"domain": ["Real - Periodic","Imag - Periodic","Real - Tadeu & Kausel","Imag - Tadeu & Kausel"], "range": ["stroke","stroke","M0.115,0A0.115,0.115,0,1,1,-0.115,0A0.115,0.115,0,1,1,0.115,0Z","M-0.095,-0.095H0.095V0.095H-0.095Z"]}, "legend": {"title": null}}
          }
        }
      ]
    },
    {
      "width": 571, "height": 447,
      "title": {"text": "(c)"},
      "resolve": {"scale": {"x": "independent", "y": "independent"}},
      "layer": [
        {
          "data": {"name": "cP"},
          "mark": {"type": "line", "strokeWidth": 1},
          "encoding": {
            "x": {"field": "z", "type": "quantitative", "scale": {"domain": [0, 3], "nice": false, "zero": false}, "axis": {"values": [0,0.5,1,1.5,2,2.5,3], "format": "~g", "title": "𝑧 [m]"}},
            "y": {"field": "v", "type": "quantitative", "scale": {"domain": [-5e-9, 20e-9], "nice": false, "zero": false}, "axis": {"values": [-5e-9,0,5e-9,10e-9,15e-9,20e-9], "labelExpr": "replace(format(datum.value*1e9,'~g'),'−','-')", "title": "Vertical displacement [m]", "titlePadding": 4}},
            "color": {"field": "s", "type": "nominal", "scale": {"domain": ["Real - Periodic","Imag - Periodic","Real - Tadeu & Kausel","Imag - Tadeu & Kausel"], "range": ["#0072BD","#D95319","#0072BD","#D95319"]}, "legend": {"title": null}}
          }
        },
        {
          "data": {"name": "cT"},
          "mark": {"type": "point", "filled": false, "size": 4844, "strokeWidth": 1, "opacity": 1},
          "encoding": {
            "x": {"field": "z", "type": "quantitative", "scale": {"domain": [0, 3], "nice": false, "zero": false}, "axis": {"orient": "top", "values": [0,0.5,1,1.5,2,2.5,3], "labels": false, "title": "×10⁻⁹", "titleAnchor": "start", "titleAlign": "left", "titleFontSize": 20, "titleBaseline": "alphabetic", "titlePadding": 4}},
            "y": {"field": "v", "type": "quantitative", "scale": {"domain": [-5e-9, 20e-9], "nice": false, "zero": false}, "axis": {"orient": "right", "values": [-5e-9,0,5e-9,10e-9,15e-9,20e-9], "labels": false, "title": null}},
            "color": {"field": "s", "type": "nominal", "scale": {"domain": ["Real - Periodic","Imag - Periodic","Real - Tadeu & Kausel","Imag - Tadeu & Kausel"], "range": ["#0072BD","#D95319","#0072BD","#D95319"]}, "legend": {"title": null}},
            "shape": {"field": "s", "type": "nominal", "scale": {"domain": ["Real - Periodic","Imag - Periodic","Real - Tadeu & Kausel","Imag - Tadeu & Kausel"], "range": ["stroke","stroke","M0.115,0A0.115,0.115,0,1,1,-0.115,0A0.115,0.115,0,1,1,0.115,0Z","M-0.095,-0.095H0.095V0.095H-0.095Z"]}, "legend": {"title": null}}
          }
        }
      ]
    }
  ],
  "spacing": 122,
  "bounds": "flush",
  "resolve": {"scale": {"color": "independent", "shape": "independent"}}
}
